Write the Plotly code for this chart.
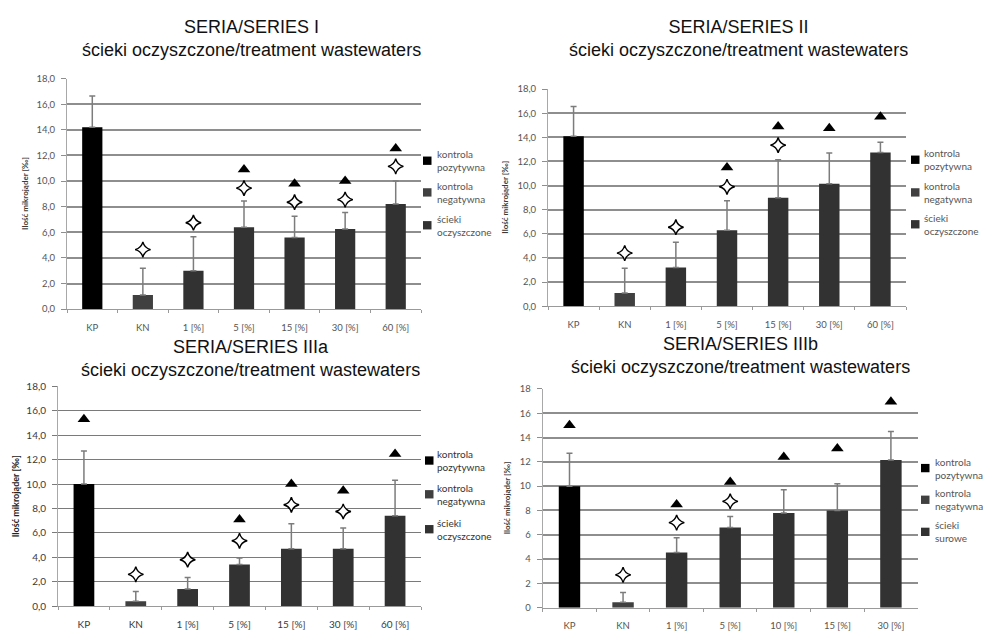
import plotly.graph_objects as go

# ---------------- data ----------------
cats_a = ["KP", "KN", "1 [%]", "5 [%]", "15 [%]", "30 [%]", "60 [%]"]
cats_b = ["KP", "KN", "1 [%]", "5 [%]", "10 [%]", "15 [%]", "30 [%]"]

titles = ["SERIA/SERIES I", "SERIA/SERIES II", "SERIA/SERIES IIIa", "SERIA/SERIES IIIb"]
subtitle = "ścieki oczyszczone/treatment wastewaters"
legend_third = ["ścieki<br>oczyszczone", "ścieki<br>oczyszczone", "ścieki<br>oczyszczone", "ścieki<br>surowe"]

mean_1 = [14.2, 1.1, 3.0, 6.4, 5.6, 6.25, 8.2]
sd_1 = [2.45, 2.1, 2.65, 2.05, 1.65, 1.3, 1.8]
tri_1 = [18.1, None, None, 10.9, 9.8, 10.0, 12.55]
star_1 = [None, 4.65, 6.75, 9.45, 8.35, 8.55, 11.15]

mean_2 = [14.1, 1.1, 3.2, 6.3, 9.0, 10.15, 12.75]
sd_2 = [2.45, 2.05, 2.1, 2.45, 3.15, 2.55, 0.85]
tri_2 = [18.3, None, None, 11.5, 14.9, 14.75, 15.7]
star_2 = [None, 4.4, 6.55, 9.9, 13.35, None, None]

mean_3 = [10.0, 0.4, 1.4, 3.4, 4.7, 4.7, 7.4]
sd_3 = [2.7, 0.8, 0.95, 0.55, 2.05, 1.7, 2.9]
tri_3 = [15.3, None, None, 7.1, 10.0, 9.45, 12.45]
star_3 = [None, 2.6, 3.8, 5.35, 8.3, 7.75, None]

mean_4 = [10.0, 0.45, 4.55, 6.6, 7.8, 8.0, 12.15]
sd_4 = [2.7, 0.8, 1.2, 0.9, 1.9, 2.2, 2.35]
tri_4 = [15.0, None, 8.5, 10.35, 12.4, 13.1, 16.95]
star_4 = [None, 2.7, 7.0, 8.75, None, None, None]

y_title = "Ilość mikrojąder [‰]"

# ---------------- layout geometry (pixels) ----------------
W, H = 984, 634
# plot areas: x0, x1, ytop, ybottom in pixels
areas = [
    (67, 421, 74, 309),
    (548, 906, 84.7, 306),
    (58, 421, 387.7, 611.7),
    (542.7, 917.7, 390.3, 613.3),
]
title_pos = [(251, 33), (738, 33.5), (250, 359), (740, 356)]
ytitle_x = [25, 505, 15, 507]
legend_sq_x = [423, 911, 425, 921]
legend_txt_x = [435, 922, 435, 933]
legend_y = [
    (157.7, 190, 223.5),
    (156.7, 190, 222.5),
    (463.3, 497.7, 533.3),
    (471, 503.3, 536),
]

panels = [
    (cats_a, mean_1, sd_1, tri_1, star_1),
    (cats_a, mean_2, sd_2, tri_2, star_2),
    (cats_a, mean_3, sd_3, tri_3, star_3),
    (cats_b, mean_4, sd_4, tri_4, star_4),
]

C_KP = "#000000"
C_KN = "#404040"
C_S = "#323232"
ERR_C = "#7c7c7c"

fig = go.Figure()
annotations = []
shapes = []
layout = {}

for i, (cats, mean, sd, tri, star) in enumerate(panels):
    n = i + 1
    xa = "x" if n == 1 else f"x{n}"
    ya = "y" if n == 1 else f"y{n}"
    third = i == 2  # panel IIIa renders with crisper, darker text
    tick_col = "#3a3a3a" if third else "#555555"
    tick_size = 10 if third else 9.5
    grid_col = "#7a7a7a" if third else "#8e8e8e"

    groups = [
        ([0], C_KP, "kontrola pozytywna"),
        ([1], C_KN, "kontrola negatywna"),
        (list(range(2, len(cats))), C_S, legend_third[i].replace("<br>", " ")),
    ]
    for idx, col, name in groups:
        fig.add_trace(go.Bar(
            x=[cats[k] for k in idx], y=[mean[k] for k in idx],
            width=0.4, marker=dict(color=col, line=dict(width=0)),
            error_y=dict(type="data", symmetric=False,
                         array=[sd[k] for k in idx], arrayminus=[0] * len(idx),
                         color=ERR_C, thickness=1.5, width=3),
            name=name, showlegend=False, xaxis=xa, yaxis=ya,
        ))
    fig.add_trace(go.Scatter(
        x=cats, y=tri, mode="markers", showlegend=False, xaxis=xa, yaxis=ya,
        marker=dict(symbol="triangle-up", size=11, color="#000000"),
        cliponaxis=False, hoverinfo="skip",
    ))
    fig.add_trace(go.Scatter(
        x=cats, y=star, mode="markers", showlegend=False, xaxis=xa, yaxis=ya,
        marker=dict(symbol="star-diamond", size=11, color="#ffffff",
                    line=dict(color="#000000", width=1.4)),
        cliponaxis=False, hoverinfo="skip",
    ))

    x0, x1, yt, yb = areas[i]
    xkey = "xaxis" if n == 1 else f"xaxis{n}"
    ykey = "yaxis" if n == 1 else f"yaxis{n}"
    layout[xkey] = dict(
        domain=[x0 / W, x1 / W], anchor=ya, type="category",
        categoryorder="array", categoryarray=cats, range=[-0.5, len(cats) - 0.5],
        showline=True, linecolor="#9a9a9a", linewidth=1,
        ticks="outside", tickson="boundaries", ticklen=3, tickcolor="#9a9a9a",
        tickfont=dict(family="Lato", size=tick_size, color=tick_col),
        ticklabelstandoff=9, showgrid=False, zeroline=False, fixedrange=True,
    )
    layout[ykey] = dict(
        domain=[1 - yb / H, 1 - yt / H], anchor=xa, range=[0, 18],
        tickmode="linear", tick0=0, dtick=2,
        tickformat=".0f" if n == 4 else ".1f",
        showline=True, linecolor="#a8a8a8", linewidth=1,
        ticks="outside", ticklen=5, tickcolor=grid_col,
        tickfont=dict(family="Lato", size=tick_size, color=tick_col),
        ticklabelstandoff=4,
        showgrid=True, gridcolor=grid_col, gridwidth=1.5 if not third else 1,
        zeroline=False, fixedrange=True,
    )

    # titles
    tx, ty = title_pos[i]
    annotations.append(dict(
        text=f"{titles[i]}<br>{subtitle}", x=tx / W, y=1 - ty / H,
        xref="paper", yref="paper", xanchor="center", yanchor="middle",
        showarrow=False, align="center",
        font=dict(family="Liberation Sans", size=18, color="#111111"),
    ))
    # y axis title
    annotations.append(dict(
        text=f"<b>{y_title}</b>", x=ytitle_x[i] / W, y=1 - ((yt + yb) / 2) / H,
        xref="paper", yref="paper", xanchor="center", yanchor="middle",
        textangle=-90, showarrow=False,
        font=dict(family="Lato", size=9 if third else 8, color="#222222" if third else "#3a3a3a"),
    ))
    # legend (swatches + labels)
    leg_texts = ["kontrola<br>pozytywna", "kontrola<br>negatywna", legend_third[i]]
    leg_cols = [C_KP, C_KN, C_S]
    for j in range(3):
        cy = legend_y[i][j]
        sx = legend_sq_x[i]
        shapes.append(dict(
            type="rect", xref="paper", yref="paper",
            x0=sx / W, x1=(sx + 8.5) / W, y0=1 - (cy + 4.25) / H, y1=1 - (cy - 4.25) / H,
            fillcolor=leg_cols[j], line=dict(width=0),
        ))
        annotations.append(dict(
            text=leg_texts[j], x=legend_txt_x[i] / W, y=1 - cy / H,
            xref="paper", yref="paper", xanchor="left", yanchor="middle",
            showarrow=False, align="left",
            font=dict(family="Lato", size=10, color="#333333" if third else "#555555"),
        ))

fig.update_layout(
    width=W, height=H, autosize=False,
    margin=dict(l=0, r=0, t=0, b=0),
    paper_bgcolor="#ffffff", plot_bgcolor="#ffffff",
    barmode="overlay", separators=",.",
    showlegend=False,
    annotations=annotations, shapes=shapes,
    **layout,
)

fig.write_html("out.html", config={"displayModeBar": False},
               post_script="document.body.style.margin='0';")
